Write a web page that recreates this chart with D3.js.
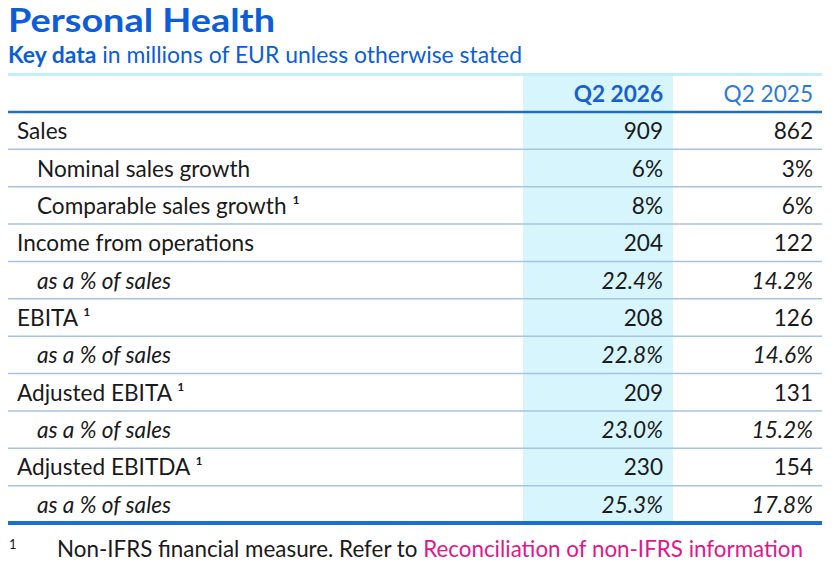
<!DOCTYPE html>
<html>
<head>
<meta charset="utf-8">
<script src="https://cdn.jsdelivr.net/npm/d3@7"></script>
<style>
  body { margin: 0; background: #fff; }
  svg text { font-family: Lato, "Open Sans", sans-serif; }
</style>
</head>
<body>
<svg id="chart" width="840" height="574"></svg>
<script>
// table data
var labels = ["Sales", "Nominal sales growth", "Comparable sales growth", "Income from operations",
  "as a % of sales", "EBITA", "as a % of sales", "Adjusted EBITA", "as a % of sales",
  "Adjusted EBITDA", "as a % of sales"];
var indented = [false, true, true, false, true, false, true, false, true, false, true];
var italicRow = [false, false, false, false, true, false, true, false, true, false, true];
var noted = [false, false, true, false, false, true, false, true, false, true, false];
var q2026 = ["909", "6%", "8%", "204", "22.4%", "208", "22.8%", "209", "23.0%", "230", "25.3%"];
var q2025 = ["862", "3%", "6%", "122", "14.2%", "126", "14.6%", "131", "15.2%", "154", "17.8%"];
var columns = ["Q2 2026", "Q2 2025"];

var svg = d3.select('#chart');
var left = 8, right = 822;
var fs = 22.6;

var y = d3.scaleBand()
  .domain(d3.range(labels.length))
  .range([112, 523]);

var colX = d3.scaleOrdinal().domain(columns).range([663, 813]);

// title
svg.append('text')
  .attr('x', 8).attr('y', 32)
  .attr('font-size', 33).attr('font-weight', 700)
  .attr('fill', '#0b5ed7')
  .attr('textLength', 267).attr('lengthAdjust', 'spacingAndGlyphs')
  .text('Personal Health');

var sub = svg.append('text')
  .attr('x', 8).attr('y', 63)
  .attr('font-size', 22.6)
  .attr('fill', '#0b5ed7')
  .attr('textLength', 514).attr('lengthAdjust', 'spacingAndGlyphs');
sub.append('tspan').attr('font-weight', 700).text('Key data');
sub.append('tspan').text(' in millions of EUR unless otherwise stated');

// light line under the subtitle
svg.append('rect')
  .attr('x', left).attr('y', 73)
  .attr('width', right - left).attr('height', 3)
  .attr('fill', '#c3eefa');

// shaded current quarter column
svg.append('rect')
  .attr('x', 523).attr('y', 76)
  .attr('width', 150).attr('height', 523 - 76)
  .attr('fill', '#d6f5fd');

// header
svg.selectAll('.head')
  .data(columns)
  .enter().append('text')
  .attr('class', 'head')
  .attr('x', function(d){ return colX(d); })
  .attr('y', 102)
  .attr('text-anchor', 'end')
  .attr('font-size', fs)
  .attr('font-weight', function(d, i){ return i === 0 ? 700 : 400; })
  .attr('fill', function(d, i){ return i === 0 ? '#1b5fcf' : '#2b7ad6'; })
  .text(function(d){ return d; });

// row separators
svg.selectAll('.sep')
  .data(d3.range(1, labels.length))
  .enter().append('line')
  .attr('x1', left).attr('x2', right)
  .attr('y1', function(d){ return y(d); })
  .attr('y2', function(d){ return y(d); })
  .attr('stroke', '#a6c3e4')
  .attr('stroke-width', 1.5);

svg.append('line')
  .attr('x1', left).attr('x2', right)
  .attr('y1', 112).attr('y2', 112)
  .attr('stroke', '#1f6fb8').attr('stroke-width', 2.5);

svg.append('line')
  .attr('x1', left).attr('x2', right)
  .attr('y1', 523).attr('y2', 523)
  .attr('stroke', '#1a6fd6').attr('stroke-width', 4);

// rows
var rows = svg.selectAll('.row')
  .data(labels)
  .enter().append('g')
  .attr('class', 'row')
  .attr('transform', function(d, i){ return 'translate(0,' + (y(i) + y.bandwidth() / 2 + 8.5) + ')'; })
  .attr('font-size', fs)
  .attr('fill', '#1a1a1a')
  .attr('font-style', function(d, i){ return italicRow[i] ? 'italic' : 'normal'; });

rows.append('text')
  .attr('x', function(d, i){ return indented[i] ? 37 : 17; })
  .text(function(d, i){ return noted[i] ? d + ' \u00b9' : d; });

rows.append('text')
  .attr('x', colX(columns[0]))
  .attr('text-anchor', 'end')
  .text(function(d, i){ return q2026[i]; });

rows.append('text')
  .attr('x', colX(columns[1]))
  .attr('text-anchor', 'end')
  .text(function(d, i){ return q2025[i]; });

// footnote
svg.append('text')
  .attr('x', 9).attr('y', 549)
  .attr('font-size', 13).attr('fill', '#1a1a1a')
  .text('1');

var foot = svg.append('text')
  .attr('x', 57).attr('y', 557)
  .attr('font-size', 22.4)
  .attr('fill', '#1a1a1a')
  .attr('textLength', 746).attr('lengthAdjust', 'spacingAndGlyphs');
foot.append('tspan').text('Non-IFRS financial measure. Refer to ');
foot.append('tspan').attr('fill', '#e2168b').text('Reconciliation of non-IFRS information');
</script>
</body>
</html>
